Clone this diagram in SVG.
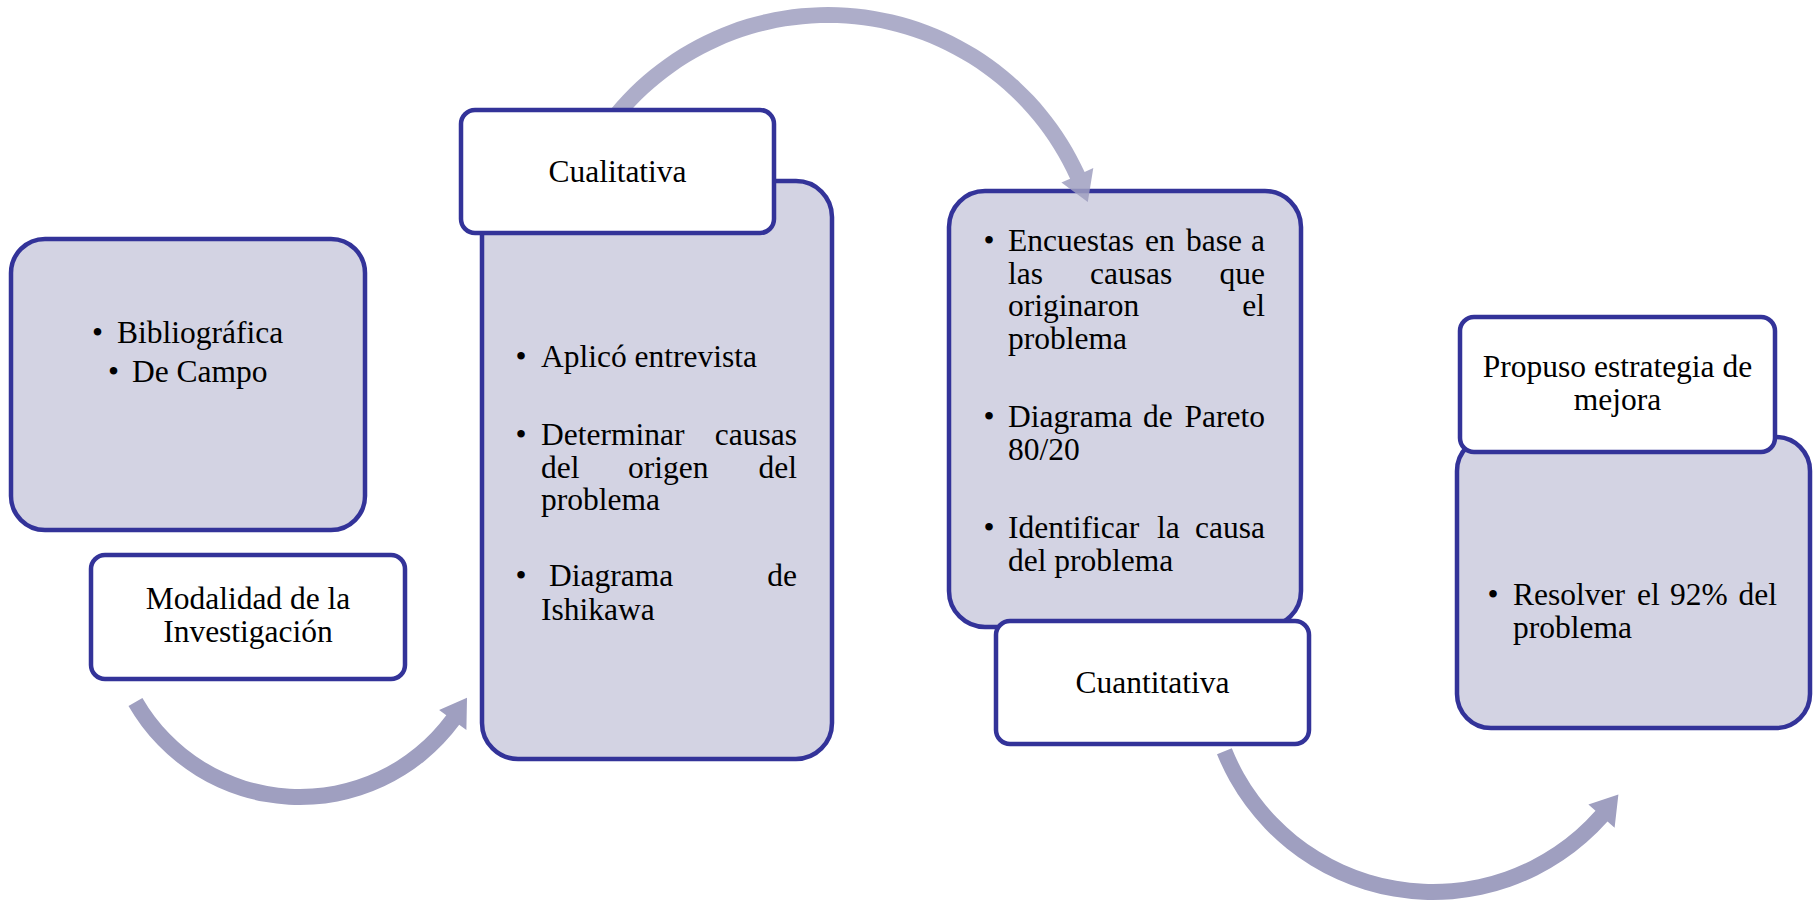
<svg xmlns="http://www.w3.org/2000/svg" width="1819" height="901" viewBox="0 0 1819 901">
<style>
.card{fill:#D3D3E3;stroke:#333399;stroke-width:4.5}
.label{fill:#FFFFFF;stroke:#333399;stroke-width:4.5}
text{font-family:"Liberation Serif","Times New Roman",serif;font-size:31.5px;fill:#000}
.c{text-anchor:middle}
.r{text-anchor:end}
.arrow{fill:#9F9FC0}
</style>
<rect width="1819" height="901" fill="#FFFFFF"/>

<g id="node-bibliografica">
<rect class="card" x="11" y="239" width="354" height="291" rx="34"/>
<text x="97.5" y="343" class="c">•</text><text x="117" y="343">Bibliográfica</text>
<text x="113.5" y="382" class="c">•</text><text x="132" y="382">De Campo</text>
</g>

<g id="node-cualitativa-detalle">
<rect class="card" x="482" y="181" width="350" height="578" rx="36"/>
<text x="521" y="367" class="c">•</text><text x="541" y="367">Aplicó entrevista</text>
<text x="521" y="445" class="c">•</text><text x="541" y="445">Determinar</text><text x="797" y="445" class="r">causas</text>
<text x="541" y="478">del</text><text x="628" y="478">origen</text><text x="797" y="478" class="r">del</text>
<text x="541" y="510">problema</text>
<text x="521" y="586" class="c">•</text><text x="549" y="586">Diagrama</text><text x="797" y="586" class="r">de</text>
<text x="541" y="620">Ishikawa</text>
</g>

<g id="node-cuantitativa-detalle">
<rect class="card" x="949" y="191" width="352" height="436" rx="36"/>
<text x="989" y="251" class="c">•</text><text x="1008" y="251">Encuestas</text><text x="1145" y="251">en</text><text x="1186" y="251">base</text><text x="1265" y="251" class="r">a</text>
<text x="1008" y="284">las</text><text x="1090" y="284">causas</text><text x="1265" y="284" class="r">que</text>
<text x="1008" y="316">originaron</text><text x="1265" y="316" class="r">el</text>
<text x="1008" y="349">problema</text>
<text x="989" y="427" class="c">•</text><text x="1008" y="427">Diagrama</text><text x="1143" y="427">de</text><text x="1265" y="427" class="r">Pareto</text>
<text x="1008" y="460">80/20</text>
<text x="989" y="538" class="c">•</text><text x="1008" y="538">Identificar</text><text x="1157" y="538">la</text><text x="1265" y="538" class="r">causa</text>
<text x="1008" y="571">del problema</text>
</g>

<g id="node-resolver">
<rect class="card" x="1457" y="437" width="353" height="291" rx="34"/>
<text x="1493" y="605" class="c">•</text><text x="1513" y="605">Resolver</text><text x="1637" y="605">el</text><text x="1670" y="605">92%</text><text x="1777" y="605" class="r">del</text>
<text x="1513" y="638">problema</text>
</g>

<g id="connectors">
<path class="arrow" d="M128.5,706 A198,198 0 0 0 459.2,724.8 L466.4,730.1 L467,697.7 L439.1,709.9 L446.3,715.3 A182,182 0 0 1 142.4,698 Z"/>
<path class="arrow" opacity="0.85" d="M599.9,123.2 A282,282 0 0 1 1084.6,172.1 L1093.3,168.1 L1087.8,202.1 L1061.4,182.6 L1070.1,178.7 A266,266 0 0 0 612.8,132.6 Z"/>
<path class="arrow" d="M1217,754.3 A233,233 0 0 0 1607.5,821.4 L1614.6,827.7 L1618.4,794.4 L1588.4,804.5 L1595.5,810.8 A217,217 0 0 1 1231.8,748.3 Z"/>
</g>

<g id="node-modalidad">
<rect class="label" x="91" y="555" width="314" height="124" rx="14"/>
<text x="248" y="609" class="c">Modalidad de la</text>
<text x="248" y="642" class="c">Investigación</text>
</g>

<g id="node-cualitativa">
<rect class="label" x="461" y="110" width="313" height="123" rx="14"/>
<text x="617.5" y="182" class="c">Cualitativa</text>
</g>

<g id="node-cuantitativa">
<rect class="label" x="996" y="621" width="313" height="123" rx="14"/>
<text x="1152.5" y="693" class="c">Cuantitativa</text>
</g>

<g id="node-propuso">
<rect class="label" x="1460" y="317" width="315" height="135" rx="14"/>
<text x="1617.5" y="377" class="c">Propuso estrategia de</text>
<text x="1617.5" y="410" class="c">mejora</text>
</g>
</svg>
